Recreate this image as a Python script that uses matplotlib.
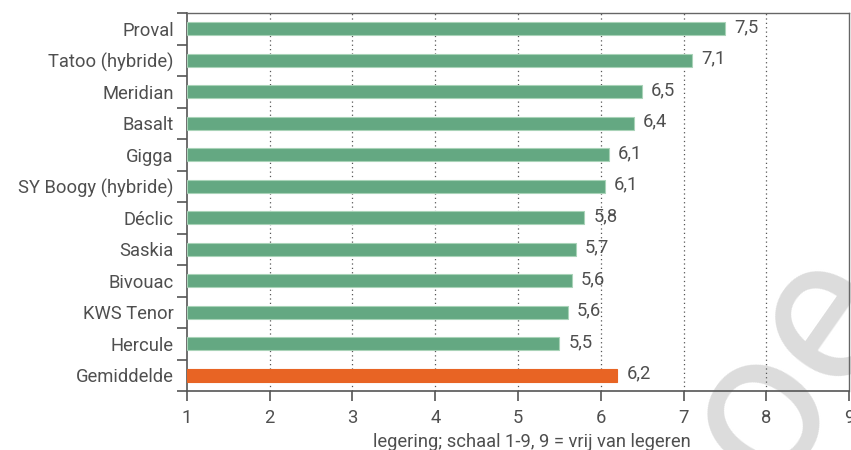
import matplotlib
matplotlib.use("Agg")
import matplotlib.pyplot as plt
import numpy as np

categories = ["Proval", "Tatoo (hybride)", "Meridian", "Basalt", "Gigga",
              "SY Boogy (hybride)", "Déclic", "Saskia", "Bivouac", "KWS Tenor",
              "Hercule", "Gemiddelde"]
values = [7.5, 7.1, 6.5, 6.4, 6.1, 6.05, 5.8, 5.7, 5.65, 5.6, 5.5, 6.2]
labels = ["7,5", "7,1", "6,5", "6,4", "6,1", "6,1", "5,8", "5,7", "5,6", "5,6", "5,5", "6,2"]
xticks = [1, 2, 3, 4, 5, 6, 7, 8, 9]
xlabel = "legering; schaal 1-9, 9 = vrij van legeren"

green = "#64a882"
orange = "#e86424"
txt = "#4f4f4f"
fs = 13.2

plt.rcParams['font.family'] = ['Roboto', 'DejaVu Sans']

fig = plt.figure(figsize=(8.51, 4.5), dpi=100)
# watermark
fig.text(0.928, 0.19, "oe", fontsize=150, color="#dcdcdc", rotation=55,
         rotation_mode="anchor", ha="center", va="center", zorder=-5,
         family="Roboto")

ax = fig.add_axes([0.2197, 0.1311, 0.778, 0.840])
ax.patch.set_alpha(0)

y = np.arange(len(categories))
colors = [green] * (len(categories) - 1) + [orange]
edges = ["#a9d3b8"] * (len(categories) - 1) + [orange]
base = 1
ax.barh(y, np.array(values) - base, left=base, height=0.41, color=colors,
        edgecolor=edges, linewidth=0.8, zorder=3)

for yi, v, lab in zip(y, values, labels):
    ax.text(v + 0.11, yi - 0.05, lab, va="center", ha="left", fontsize=fs,
            color=txt, zorder=4)

ax.set_xlim(1, 9)
ax.set_ylim(len(categories) - 0.5, -0.5)
ax.set_xticks(xticks)
ax.set_xticklabels([str(t) for t in xticks])
ax.set_yticks(y)
ax.set_yticklabels(categories)
ax.set_yticks(np.arange(len(categories) + 1) - 0.5, minor=True)

ax.tick_params(axis="y", which="major", length=0, pad=9.5, labelsize=fs, labelcolor=txt)
ax.tick_params(axis="y", which="minor", length=7, width=1.2, color="#555555")
ax.tick_params(axis="x", which="major", length=7, width=1.2, color="#555555",
               pad=6, labelsize=fs, labelcolor=txt)

for x in xticks[1:-1]:
    ax.axvline(x, color="#555555", linestyle=(0, (1, 2.5)), linewidth=0.9, zorder=1)

for s in ["left", "bottom"]:
    ax.spines[s].set_color("#555555")
    ax.spines[s].set_linewidth(1.2)
for s in ["top", "right"]:
    ax.spines[s].set_color("#666666")
    ax.spines[s].set_linewidth(1.0)

ax.set_xlabel(xlabel, fontsize=fs, color=txt)
ax.xaxis.set_label_coords(0.521, -0.112)

fig.savefig("out.png", dpi=100)
